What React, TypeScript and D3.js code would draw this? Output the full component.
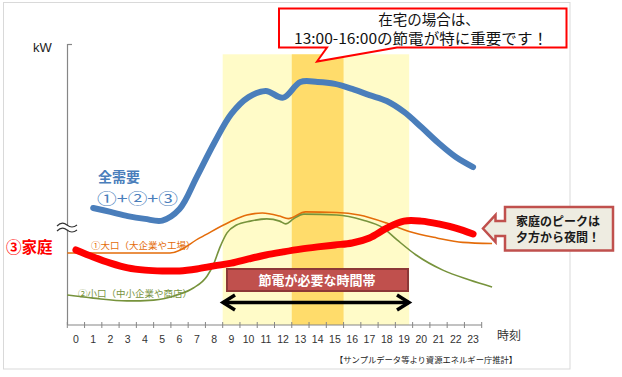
import React from 'react';
import * as d3 from 'd3';

// ---- data ----
const HOUR_LABELS = d3.range(24).map((h) => String(h));
const TOTAL_HOURS = d3.range(1, 24);
const TOTAL_DEMAND = [41.8, 40.4, 38.9, 37.9, 37.3, 41.4, 52.9, 64.9, 75.4, 81.4, 83.6, 81.2, 86.8, 86.8, 86.1, 84.3, 82.1, 80.0, 76.1, 70.7, 65.0, 60.0, 56.4];
const HOME_HOURS = d3.range(0, 24);
const HOME_DEMAND = [26.8, 24.3, 22.1, 20.4, 19.6, 19.3, 19.3, 20.0, 21.1, 22.1, 23.6, 25.0, 26.1, 27.1, 27.9, 28.6, 29.3, 31.1, 34.6, 37.1, 37.1, 36.1, 34.6, 32.5];
// large users (time position, value)
const LARGE_T = [0, 3, 5.95, 7.7, 9.4, 10.4, 11.3, 12.3, 12.8, 13.8, 15.6, 16.9, 18.5, 19.8, 21.4, 22.9, 24.6];
const LARGE_V = [25.7, 25.7, 25.7, 31.2, 36.8, 39.3, 40.0, 38.9, 38.0, 40.4, 40.2, 39.3, 36.4, 33.4, 31.1, 29.5, 29.1];
// small users (time position, value)
const SMALL_T = [0, 1.5, 3.45, 5, 6.35, 7.3, 8.1, 8.45, 8.85, 9.25, 9.8, 10.6, 11.55, 12.3, 12.65, 13.1, 13.7, 15.6, 17.1, 18.3, 19.1, 20.2, 21.75, 23.3, 24.6];
const SMALL_V = [10.7, 9.6, 8.6, 8.9, 10.7, 13.2, 17.5, 21.4, 27.9, 32.9, 35.7, 37.1, 37.9, 37.1, 36.1, 37.9, 39.6, 39.3, 37.5, 34.6, 30.4, 25.0, 19.6, 16.1, 13.6];
const SAVING_BAND = [9, 19.8];
const PEAK_BAND = [13, 16];

const JP = '"Noto Sans CJK JP", "Noto Sans", sans-serif';
const LAT = '"Liberation Sans", Arial, sans-serif';

export default function App() {
  const x = d3.scaleLinear().domain([0, 24]).range([67.3, 481.7]);
  const y = d3.scaleLinear().domain([0, 100]).range([325, 45]);
  const catLine = d3
    .line<[number, number]>()
    .x((d) => x(d[0] + 0.5))
    .y((d) => y(d[1]))
    .curve(d3.curveCatmullRom.alpha(0.5));
  const freeLine = d3
    .line<[number, number]>()
    .x((d) => x(d[0]))
    .y((d) => y(d[1]))
    .curve(d3.curveMonotoneX);

  const totalPath = catLine(TOTAL_HOURS.map((h, i) => [h, TOTAL_DEMAND[i]]));
  const homePath = catLine(HOME_HOURS.map((h, i) => [h, HOME_DEMAND[i]]));
  const largePath = freeLine(LARGE_T.map((t, i) => [t, LARGE_V[i]]));
  const smallPath = freeLine(SMALL_T.map((t, i) => [t, SMALL_V[i]]));

  const y0 = y(0);
  const bandTop = 54.3;
  const ticks = d3.range(25);

  return (
    <svg
      width={622}
      height={377}
      style={{ position: 'absolute', left: 0, top: 0, background: '#fff' }}
    >
      <rect x={3.5} y={2.5} width={566.5} height={366.5} fill="#fff" stroke="#d9d9d9" strokeWidth={1} />

      {/* bands */}
      <rect x={x(SAVING_BAND[0])} y={bandTop} width={x(SAVING_BAND[1]) - x(SAVING_BAND[0])} height={y0 - bandTop} fill="#fffbc8" />
      <rect x={x(PEAK_BAND[0])} y={bandTop} width={x(PEAK_BAND[1]) - x(PEAK_BAND[0])} height={y0 - bandTop} fill="#ffdc6b" />

      {/* axes */}
      <line x1={67.5} y1={44} x2={67.5} y2={y0} stroke="#868686" strokeWidth={1.2} />
      <line x1={67.5} y1={44.5} x2={72} y2={44.5} stroke="#868686" strokeWidth={1.2} />
      <line x1={x(0)} y1={y0} x2={x(24)} y2={y0} stroke="#868686" strokeWidth={1.2} />
      {ticks.map((t) => (
        <line key={t} x1={x(t)} y1={y0 - 3} x2={x(t)} y2={y0 + 3} stroke="#868686" strokeWidth={1} />
      ))}
      {HOUR_LABELS.map((l, i) => (
        <text key={l} x={x(i + 0.5)} y={343} textAnchor="middle" fontFamily={LAT} fontSize={10.5} fill="#333">
          {l}
        </text>
      ))}
      <text x={497} y={340} fontFamily={JP} fontSize={12} fill="#333">時刻</text>
      <text x={33} y={52} fontFamily={LAT} fontSize={13} fill="#222">kW</text>

      {/* axis break */}
      <path d="M57,226 q5,-5 10,-1 t10,0 l0,5 q-5,-4 -10,0 t-10,0 z" fill="#fff" />
      <path d="M57,226 q5,-5 10,-1 t10,0" fill="none" stroke="#333" strokeWidth={1.2} />
      <path d="M57,231 q5,-5 10,-1 t10,0" fill="none" stroke="#333" strokeWidth={1.2} />

      {/* lines */}
      <path d={largePath || ''} fill="none" stroke="#e46c0a" strokeWidth={1.6} />
      <path d={smallPath || ''} fill="none" stroke="#77933c" strokeWidth={1.6} />
      <path d={homePath || ''} fill="none" stroke="#ff0000" strokeWidth={7} strokeLinecap="round" />
      <path d={totalPath || ''} fill="none" stroke="#4a7ebb" strokeWidth={6} strokeLinecap="round" />

      {/* series labels */}
      <text x={98} y={181.5} fontFamily={JP} fontSize={14} fontWeight={700} fill="#4a7ebb">全需要</text>
      <text x={97} y={203.5} fontFamily={JP} fontSize={15} fill="#4a7ebb" textLength={81} lengthAdjust="spacingAndGlyphs">①+②+③</text>
      <text x={6} y={253} fontFamily={JP} fontSize={15.5} fontWeight={700} fill="#ff0000">③家庭</text>
      <text x={91} y={248.5} fontFamily={JP} fontSize={9.5} fill="#e46c0a">①大口（大企業や工場）</text>
      <text x={78} y={297} fontFamily={JP} fontSize={9.5} fill="#77933c">②小口（中小企業や商店）</text>

      {/* saving time box */}
      <rect x={227} y={269} width={181} height={22} fill="#c0504d" stroke="#8c3836" strokeWidth={2} />
      <text x={317} y={285} textAnchor="middle" fontFamily={JP} fontSize={13} fontWeight={700} fill="#fff">節電が必要な時間帯</text>

      {/* double arrow */}
      <line x1={223} y1={302.5} x2={409} y2={302.5} stroke="#000" strokeWidth={3.5} />
      <path d="M235,295 L223,302.5 L235,310" fill="none" stroke="#000" strokeWidth={3.5} strokeLinejoin="miter" />
      <path d="M397,295 L409,302.5 L397,310" fill="none" stroke="#000" strokeWidth={3.5} strokeLinejoin="miter" />

      {/* top callout */}
      <path
        d="M279,8.5 L566.5,8.5 L566.5,47.5 L397,47.5 L317,61.5 L327,47.5 L279,47.5 Z"
        fill="#fff"
        stroke="#ff0000"
        strokeWidth={2}
        strokeLinejoin="miter"
      />
      <text x={429} y={25} textAnchor="middle" fontFamily={JP} fontSize={14.5} fill="#111">在宅の場合は、</text>
      <text x={421} y={44} textAnchor="middle" fontFamily={JP} fontSize={14.5} fill="#111" textLength={254} lengthAdjust="spacingAndGlyphs">13:00-16:00の節電が特に重要です！</text>

      {/* right callout */}
      <path
        d="M505,207 L613,207 L613,250.5 L505,250.5 L505,236 L495.5,236 L495.5,242 L483,228.5 L495.5,215 L495.5,221 L505,221 Z"
        fill="#eeece1"
        stroke="#c0504d"
        strokeWidth={2.5}
        strokeLinejoin="miter"
      />
      <text x={516} y={226} fontFamily={JP} fontSize={12} fontWeight={700} fill="#1a1a1a">家庭のピークは</text>
      <text x={516} y={242} fontFamily={JP} fontSize={12} fontWeight={700} fill="#1a1a1a">夕方から夜間！</text>

      {/* source */}
      <text x={335} y={363} fontFamily={JP} fontSize={8.3} fill="#222">【サンプルデータ等より資源エネルギー庁推計】</text>
    </svg>
  );
}
